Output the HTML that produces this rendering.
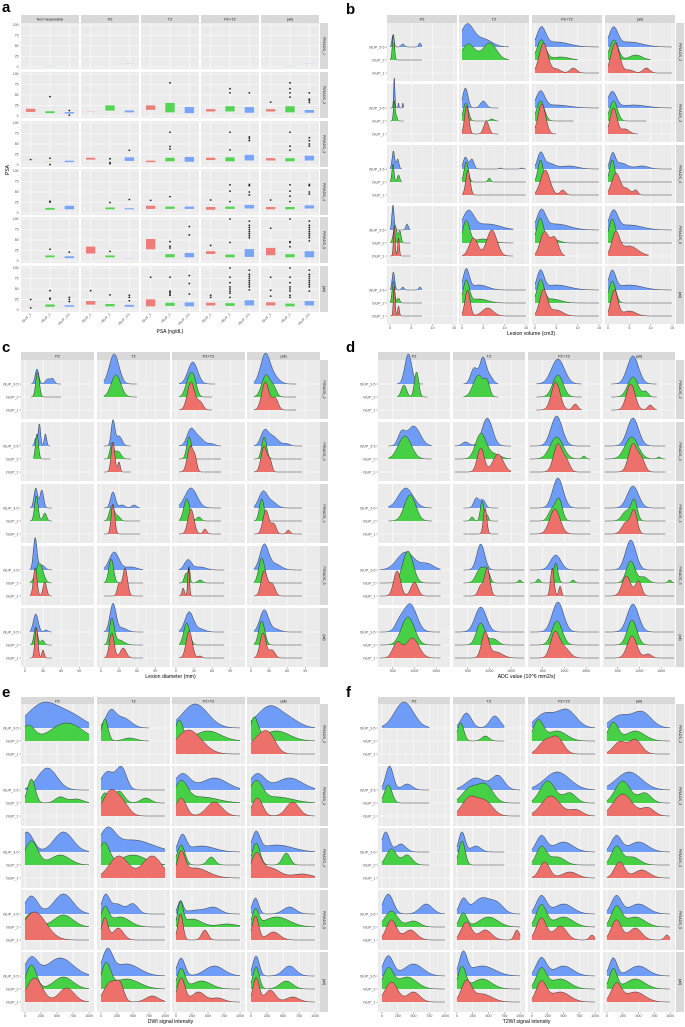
<!DOCTYPE html>
<html><head><meta charset="utf-8"><style>
html,body{margin:0;padding:0;background:#fff}
svg{display:block;font-family:"Liberation Sans",sans-serif}
</style></head><body>
<svg id="fig" width="685" height="1027" viewBox="0 0 685 1027" xmlns="http://www.w3.org/2000/svg"></svg>
<script>
// ---------------- data ----------------
const colNamesA = ["Not measurable","PZ","TZ","PZ+TZ","(all)"];
const colNamesR = ["PZ","TZ","PZ+TZ","(all)"];
const rowNamesA = ["PIRADS_1","PIRADS_2","PIRADS_3","PIRADS_4","PIRADS_5","(all)"];
const rowNamesR = ["PIRADS_2","PIRADS_3","PIRADS_4","PIRADS_5","(all)"];
const groupNames = ["ISUP_1","ISUP_2","ISUP_3-5"];
const psaTicks = [0,25,50,75,100];
const psaBoxes = [
 [[null,[1,2,[]],null],[null,null,[8,9,[]]],[null,null,null],[null,null,null],[null,[1,2,[]],[8,9,[]]]],
 [[[9,18,[]],[6,12,[46]],[5,10,[13,2]]],[[10,12,[]],[12,26,[]],[8,14,[]]],[[14,26,[]],[8,32,[79]],[6,22,[]]],[[10,17,[]],[10,24,[55,65]],[7,22,[55]]],[[10,17,[33]],[8,24,[45,55,65,79]],[7,15,[32,37,40,55]]]],
 [[[12,13,[13]],[7,9,[1,16]],[6,11,[]]],[[12,18,[]],[12,13,[3,6,15]],[9,19,[35]]],[[6,11,[]],[8,18,[38,44,78]],[7,20,[]]],[[11,18,[]],[8,19,[36,78]],[10,25,[58,63,67]]],[[10,17,[]],[8,17,[35,45,78]],[10,23,[45,50,58,65]]]],
 [[null,[7,13,[26,28]],[8,18,[]]],[null,[8,14,[25]],[8,12,[32]]],[[9,18,[30]],[9,16,[39]],[9,16,[]]],[[7,15,[31]],[9,16,[27,52,67]],[10,20,[43,50,65,68]]],[[8,15,[31]],[8,15,[27,40,52,67]],[10,19,[45,50,65,68]]]],
 [[null,[8,14,[28]],[6,12,[21]]],[[17,35,[]],[8,14,[23]],[5,7,[]]],[[27,53,[]],[8,17,[31,35,46]],[8,20,[62,82]]],[[16,24,[37]],[8,16,[44,100]],[9,29,[55,60,65,70,75,80,85,95]]],[[13,32,[78]],[8,17,[34,44,46,100]],[8,24,[48,55,60,65,70,75,80,85,95]]]],
 [[[11,12,[5,25]],[7,14,[26,28,46]],[7,12,[20,25,30]]],[[12,22,[46]],[8,15,[36]],[7,13,[22,30,35]]],[[8,26,[78]],[9,18,[35,38,42,45,78]],[8,19,[38,63,82]]],[[10,18,[30,35]],[9,17,[30,40,45,50,55,65,78,100]],[10,24,[48,55,60,65,70,75,80,85,95]]],[[10,19,[33,47,78]],[8,16,[30,35,45,50,55,65,78,100]],[10,22,[45,55,60,65,70,75,80,85,95]]]]
];
const volData = [
 [[[0,7.5,[0.7,.25,12],[3,.4,3],[7,.3,4]],[0,7.5,[0.8,.25,26]],null],[[0,11,[1.2,1.5,22],[5,2,8]],[0,11,[1.5,1.5,16],[6.5,1.6,17]],null],[[0,15,[1.5,1,18],[5,3,5]],[0,10,[1.5,1,20],[6,2,3]],[0,15,[2,1,30],[5,1,4],[9,.8,5]]],[[0,15,[1.3,1,18],[5,3,5]],[0,10,[1.4,1,20],[6.5,1.5,5]],[0,15,[1.7,1,30],[5,1,3],[9,.8,5]]]],
 [[[0,3.2,[1,.15,30],[2,.1,5],[3,.1,5]],[0,3.2,[1,.2,20],[1.5,.2,5]],null],[[0,8.5,[0.8,.6,20],[5,.7,7]],[0,8.5,[0.9,.6,18],[7,.5,2]],[0,8.5,[1.1,.5,28],[5.7,.6,13]]],[[0,15,[1.3,1,16],[5,3,3]],[0,9,[1.3,.9,20]],[0,5,[1.6,.9,30]]],[[0,15,[1,1,16],[6,3,3]],[0,9,[1.3,.9,20]],[0,7,[1.3,.8,26],[4,1,5]]]],
 [[[0,2.8,[0.8,.3,18],[1.8,.3,10]],[0,2.8,[0.7,.25,18],[2,.3,7]],null],[[0,15,[0.8,.5,12],[2.3,.5,10],[9,.3,1],[14,.3,1]],[0,15,[1,.5,20],[6.4,.3,4]],[0,15,[1.4,.5,25]]],[[0,15,[1.3,.7,14],[3,1.5,6],[8,2,3]],[0,15,[1.3,.6,22]],[0,15,[2.4,1.1,25],[6.5,.6,5]]],[[0,15,[1.1,.6,14],[3,1.5,6],[8,1.5,3]],[0,15,[1,.6,22]],[0,15,[1.9,1,22],[4.5,.8,6],[6.5,.5,5]]]],
 [[[0,4.8,[0.7,.25,25],[4,.3,6]],[0,4.8,[1.2,.4,18],[2.3,.3,12]],[0,4.8,[1,.2,30],[2,.2,18]]],[[0,12,[1.5,1.3,18],[6,3,6]],[0,12,[1,.8,22],[5,2,4]],[0,12,[2.7,1,18],[7,1.2,26]]],[[0,15,[1.5,1,18],[5,3,6]],[0,15,[1.2,.8,24],[4,1.5,4]],[0,7,[2.2,1,24],[4.6,.9,18]]],[[0,15,[1.3,1,18],[5,3,5]],[0,15,[1,.8,24]],[0,9.5,[1.8,.9,22],[5,2,10]]]],
 [[[0,7.5,[0.8,.3,18],[3,.3,3],[7,.3,3]],[0,7.5,[0.8,.3,22],[2,.3,5]],[0,7.5,[1,.2,30],[2,.2,10]]],[[0,15,[1,.7,20],[4,2,5]],[0,15,[1,.7,22],[4,2,4]],[0,15,[1.3,.6,26],[6,1.3,8]]],[[0,15,[1.3,.8,18],[5,3,5]],[0,15,[1.3,.8,22],[4,2,4]],[0,15,[2,.9,26],[5,1.5,6]]],[[0,15,[1,.8,18],[5,3,5]],[0,15,[1,.8,22]],[0,15,[1.5,.8,26],[5,1.5,5]]]]
];
const diamData = [
 [[[10,60,[20,3,15],[38,4,5],[46,3,5]],[10,60,[21,3,25]],null],[[5,60,[22,8,30]],[5,60,[25,8,22]],null],[[5,65,[28,8,22]],[5,60,[22,6,18],[30,5,14]],[5,60,[25,6,28],[40,5,8]]],[[5,75,[24,8,30],[40,8,6]],[5,75,[25,7,22],[38,5,8]],[5,75,[24,6,28],[40,5,12]]]],
 [[[12,42,[18,2,8],[24,2,22],[34,2,12]],[14,42,[20,2.5,25]],null],[[5,50,[20,3,25],[30,5,10]],[5,50,[18,3,15],[28,5,8]],[5,50,[20,3,30],[30,2,10]]],[[5,75,[24,6,12],[35,10,10],[60,5,2]],[5,75,[22,4,22]],[5,75,[24,5,26],[32,3,10]]],[[5,85,[22,6,12],[35,10,10],[60,5,2]],[5,85,[22,4,22]],[5,85,[22,5,26],[32,3,10]]]],
 [[[8,45,[18,3,20],[28,3,18]],[8,45,[19,3,25],[33,3,8]],null],[[5,65,[20,4,16],[35,5,3],[55,4,3]],[5,65,[18,4,15],[28,4,5]],[5,65,[20,3,30]]],[[5,75,[25,10,20]],[5,75,[18,5,22],[38,4,4]],[5,75,[25,5,25],[48,3,5]]],[[5,85,[20,7,16],[35,8,6]],[5,85,[18,4,22]],[5,85,[25,5,24],[38,4,10],[62,3,4]]]],
 [[[8,45,[17,3,32],[28,5,5]],[8,45,[24,6,20]],[8,45,[17,3,28],[33,3,14]]],[[5,70,[22,8,18],[50,10,3]],[5,70,[17,4,24]],[5,70,[30,3,12],[40,4,28]]],[[5,80,[20,6,10],[40,10,3]],[5,80,[17,3,10],[22,1.5,14],[40,4,3]],[5,80,[12,2,8],[21,1.5,28]]],[[5,85,[22,7,25],[40,10,6]],[5,85,[18,5,25]],[5,85,[22,5,25],[35,5,12]]]],
 [[[8,45,[18,4,18],[35,3,2]],[8,45,[18,3,18],[29,3,5]],[8,45,[19,2.5,30],[30,2,8]]],[[5,70,[20,5,28],[35,8,4]],[5,70,[18,4,25],[30,8,5]],[5,70,[18,4,25],[37,5,10]]],[[5,80,[22,7,20],[40,8,3]],[5,80,[18,5,22]],[5,80,[22,5,27],[40,3,2]]],[[5,85,[22,7,22],[40,8,3]],[5,85,[18,5,24]],[5,85,[20,5,25],[35,5,8]]]]
];
const adcData = [
 [[[600,1200,[860,80,30]],[600,1300,[760,60,12],[1050,50,25]],null],[[400,1200,[650,80,16],[850,70,25],[1000,80,8]],[400,1200,[750,120,22],[950,60,12]],null],[[350,1400,[850,150,25]],[350,1400,[850,120,22]],[350,1400,[800,100,28],[1250,60,6]]],[[350,1400,[850,130,28]],[350,1400,[850,120,20],[1150,60,5]],[350,1400,[800,100,26],[1250,60,5]]]],
 [[[400,1400,[700,80,12],[980,150,20]],[400,1400,[780,150,23]],null],[[200,1500,[450,80,4],[950,120,28]],[200,1500,[800,120,25],[1100,150,5]],[200,1500,[800,80,24],[1200,120,18]]],[[200,1600,[820,130,30]],[200,1600,[820,150,22],[1450,40,3]],[200,1600,[850,100,28],[1050,80,10]]],[[200,1600,[850,130,28]],[200,1600,[820,150,22],[1450,40,2]],[200,1600,[850,100,28],[1050,80,12]]]],
 [[[400,1400,[800,170,20]],[400,1400,[900,130,26]],null],[[400,1200,[700,60,10],[850,60,8]],[400,1200,[600,40,4],[830,40,20],[950,30,6]],[400,1200,[900,40,26]]],[[200,1600,[850,120,30]],[200,1600,[700,80,10],[870,80,22]],[200,1600,[780,120,25]]],[[200,1600,[850,130,22]],[200,1600,[700,100,10],[880,70,20]],[200,1600,[700,100,12],[880,70,22]]]],
 [[[200,1600,[800,200,18],[1300,150,6]],[200,1600,[850,120,32]],[200,1600,[600,80,25],[1000,80,14]]],[[400,1800,[800,90,26]],[400,1800,[800,100,15],[950,60,10],[1700,40,3]],[400,1800,[800,60,10],[950,60,28]]],[[200,1800,[800,120,15]],[200,1800,[400,40,4],[800,50,20],[1200,40,3]],[200,1800,[720,40,28],[900,30,10]]],[[200,1800,[800,120,30]],[200,1800,[800,100,22],[1100,100,6],[1700,40,3]],[200,1800,[700,100,20],[980,70,15]]]],
 [[[200,1600,[900,150,28],[650,100,8]],[200,1600,[850,150,28]],[200,1600,[600,100,15],[950,150,20]]],[[200,1800,[800,130,25]],[200,1800,[800,100,22],[1100,100,6]],[200,1800,[900,80,25],[1150,150,6]]],[[200,1800,[850,130,30]],[200,1800,[830,120,24]],[200,1800,[780,100,25],[1000,120,10]]],[[200,1800,[850,130,28]],[200,1800,[830,110,25]],[200,1800,[830,110,22],[1200,80,4]]]]
];
const dwiData = [
 [[[0,1000,[300,250,25],[750,200,10]],[0,1000,[50,100,15],[650,250,18]],null],[[0,750,[150,80,16],[350,120,10]],[0,750,[60,50,22],[450,100,3]],null],[[0,1000,[300,200,24]],[0,1000,[50,60,20],[500,200,10]],[0,1000,[200,200,24]]],[[0,1000,[300,200,22],[650,150,5]],[0,1000,[50,60,22],[400,200,10]],[0,1000,[150,150,18],[300,100,10]]]],
 [[[0,1000,[350,150,22]],[0,1000,[100,60,24],[550,80,6],[800,100,4]],null],[[0,1000,[100,100,18],[320,80,22]],[0,1000,[60,50,10],[280,80,12],[700,80,5]],[0,1000,[150,120,25],[350,100,10]]],[[0,1000,[100,120,16],[600,200,12]],[0,1000,[80,100,20],[400,250,6]],[0,1000,[80,80,18],[600,120,14]]],[[0,1000,[100,120,16],[600,200,12]],[0,1000,[80,100,20],[400,250,6]],[0,1000,[100,80,18],[650,100,14]]]],
 [[[0,1000,[30,100,20],[600,150,20]],[0,1000,[100,100,24],[550,150,10]],null],[[0,1000,[100,120,20],[500,300,12]],[0,1000,[50,80,22],[500,200,10]],[0,1000,[280,150,22],[800,150,22]]],[[0,1000,[100,60,16],[400,200,6]],[0,1000,[80,60,20],[550,60,8]],[0,1000,[80,60,22],[300,200,10]]],[[0,1000,[80,60,18],[400,250,7]],[0,1000,[80,60,22],[550,60,12]],[0,1000,[80,80,22],[300,150,10],[800,150,4]]]],
 [[[0,1000,[100,100,18],[600,150,20]],[0,1000,[100,100,14],[600,150,12]],[0,1000,[150,180,28]]],[[0,1000,[70,60,18],[250,100,10],[500,80,10]],[0,1000,[60,60,18],[300,150,10]],[0,1000,[60,50,22],[270,80,12]]],[[0,1000,[70,40,12],[350,200,4],[600,100,5]],[0,1000,[70,40,22],[250,150,8],[800,150,3]],[0,1000,[70,40,26],[450,50,10]]],[[0,1000,[70,50,16],[600,100,7]],[0,1000,[70,50,16],[400,200,10]],[0,1000,[70,50,24],[350,100,8]]]],
 [[[0,1000,[100,100,18],[550,200,18]],[0,1000,[100,80,24],[600,150,12]],[0,1000,[150,120,24],[650,120,14]]],[[0,1000,[100,80,24],[400,200,12]],[0,1000,[80,70,24],[400,200,10]],[0,1000,[150,100,20],[300,60,14],[800,100,6]]],[[0,1000,[80,60,18],[600,150,10]],[0,1000,[80,60,20],[400,150,8]],[0,1000,[80,60,24],[350,100,10],[650,100,4]]],[[0,1000,[80,50,20],[600,100,10]],[0,1000,[80,50,22],[550,100,8]],[0,1000,[80,50,24],[300,80,12],[650,100,5]]]]
];
const t2Data = [
 [[[0,750,[350,150,26]],null,null],[[0,750,[150,80,15],[600,80,12]],[0,750,[60,50,18],[450,60,5]],null],[[0,1000,[200,150,14],[550,150,18]],[0,1000,[100,80,20],[400,150,10]],[0,1000,[200,100,12],[400,100,16]]],[[0,1000,[200,150,12],[550,150,16]],[0,1000,[100,80,18],[450,150,10]],[0,1000,[200,100,12],[450,100,14]]]],
 [[[0,750,[120,60,24],[400,80,6]],[0,750,[100,60,18]],null],[[0,1000,[300,150,12],[650,100,14]],[0,1000,[200,120,14],[450,120,18]],[0,1000,[200,120,18],[450,120,14]]],[[0,1000,[400,200,18]],[0,1000,[250,120,22],[600,100,10]],[0,1000,[300,150,20],[700,100,6]]],[[0,1000,[350,200,18]],[0,1000,[250,120,22],[600,100,10]],[0,1000,[250,150,22],[650,100,8]]]],
 [[[0,750,[60,60,20],[300,80,8]],[0,750,[150,80,16],[400,80,10]],null],[[0,750,[80,50,20],[300,80,6]],[0,750,[80,50,24]],null],[[0,1000,[150,80,16],[500,150,10]],[0,1000,[150,80,18],[400,120,8]],[0,1000,[200,80,16],[600,120,6]]],[[0,1000,[150,80,16],[500,150,10]],[0,1000,[150,80,18],[400,120,8]],[0,1000,[200,80,16],[550,120,8]]]],
 [[[0,1000,[100,80,20],[700,100,10]],[0,1000,[150,100,16],[500,100,6]],[0,1000,[150,80,20],[450,100,10]]],[[0,1000,[100,60,14],[400,150,16],[650,100,8]],[0,1000,[100,60,14],[500,150,10]],[0,1000,[150,80,18],[450,100,10],[950,40,10]]],[[0,1000,[150,80,18],[500,150,10]],[0,1000,[150,80,22],[500,150,10]],[0,1000,[150,80,22],[450,100,14],[950,40,5]]],[[0,1000,[150,80,18],[500,150,10]],[0,1000,[150,80,20],[450,150,10]],[0,1000,[150,80,20],[450,100,12],[950,40,5]]]],
 [[[0,1000,[100,80,20],[500,150,12]],[0,1000,[100,80,20],[400,150,12]],[0,1000,[150,100,20],[500,100,10]]],[[0,1000,[100,60,22],[400,200,10]],[0,1000,[80,60,22],[400,150,10]],[0,1000,[150,80,20],[400,150,8]]],[[0,1000,[150,80,18],[500,150,10]],[0,1000,[150,80,20],[450,150,10]],[0,1000,[150,80,20],[450,150,10]]],[[0,1000,[100,60,18],[500,150,10]],[0,1000,[100,60,20],[450,150,10]],[0,1000,[150,80,18],[450,150,10]]]]
];
const volTicks=[0,5,10,15], diamTicks=[0,30,60,90], adcTicks=[500,1000,1500], dwiTicks=[0,250,500,750,1000];

// ---------------- rendering ----------------
const NS="http://www.w3.org/2000/svg";
const svg=document.getElementById('fig');
const FILL=['#6E9CF7','#45D045','#EE706B'];
function el(tag,attrs,parent,txt){const e=document.createElementNS(NS,tag);for(const k in attrs)e.setAttribute(k,attrs[k]);if(txt!==undefined)e.textContent=txt;(parent||svg).appendChild(e);return e;}
function label(x,y,t){const e=el('text',{x:x,y:y,'font-size':15,'font-weight':'bold'},svg,t);

}
function strips(g,colX,colW,colNames,stripTop,rowTops,rowH,rightX,rowNames){
 colNames.forEach((n,i)=>{const r=el('rect',{x:colX[i],y:stripTop,width:colW,height:8,fill:'#d9d9d9'},g);
 
 
 el('text',{x:colX[i]+colW/2,y:stripTop+5.6,'font-size':3.8,fill:'#1a1a1a','text-anchor':'middle'},g,n);});
 rowNames.forEach((n,i)=>{const r=el('rect',{x:rightX,y:rowTops[i],width:8,height:rowH,fill:'#d9d9d9'},g);
 
 
 const cx=rightX+4,cy=rowTops[i]+rowH/2;
 el('text',{x:cx,y:cy,'font-size':3.8,fill:'#1a1a1a','text-anchor':'middle','dominant-baseline':'central',transform:`rotate(90 ${cx} ${cy})`},g,n);});
}
function ridgePanel(name,data,o){
 const g=el('g',{});
 
 
 strips(g,o.colX,o.colW,colNamesR,o.stripTop,o.rowTops,o.rowH,o.rightX,rowNamesR);
 const sx=(c,v)=>o.colX[c]+(v-o.dom[0])/(o.dom[1]-o.dom[0])*o.colW;
 const baseOff=[24,37,50];
 o.rowTops.forEach((rt,r)=>{
  o.colX.forEach((cx,c)=>{
   const p=el('g',{},g);
   
   
   el('rect',{x:cx,y:rt,width:o.colW,height:o.rowH,fill:'#ebebeb'},p);
   for(let k=0;k<o.ticks.length;k++){
    const xv=sx(c,o.ticks[k]);
    el('line',{x1:xv,x2:xv,y1:rt,y2:rt+o.rowH,stroke:'#fff','stroke-width':0.6},p);
    if(k<o.ticks.length-1){const m=sx(c,(o.ticks[k]+o.ticks[k+1])/2);el('line',{x1:m,x2:m,y1:rt,y2:rt+o.rowH,stroke:'#f5f5f5','stroke-width':0.3},p);}
   }
   baseOff.forEach(b=>el('line',{x1:cx,x2:cx+o.colW,y1:rt+b,y2:rt+b,stroke:'#fff','stroke-width':0.6},p));
   for(let gi=0;gi<3;gi++){
    const d=data[r][c][gi]; if(!d)continue;
    const base=rt+baseOff[gi];
    const x0=d[0],x1=d[1],pk=d.slice(2);
    let pts=[];
    for(let s=0;s<=80;s++){const v=x0+(x1-x0)*s/80;let h=0;pk.forEach(q=>{h+=q[2]*Math.exp(-0.5*((v-q[0])/q[1])**2);});pts.push([sx(c,v),base-h]);}
    const line=pts.map((q,i)=>(i?'L':'M')+q[0].toFixed(2)+' '+q[1].toFixed(2)).join(' ');
    const area=el('path',{d:line+` L${pts[80][0].toFixed(2)} ${base} L${pts[0][0].toFixed(2)} ${base} Z`,fill:FILL[gi]},p);
    
    
    el('path',{d:line,fill:'none',stroke:'#222','stroke-width':0.45},p);
   }
  });
  ['ISUP_3-5','ISUP_2','ISUP_1'].forEach((n,i)=>{
   el('text',{x:o.colX[0]-2.5,y:rt+baseOff[i]+1.3,'font-size':3.6,fill:'#4d4d4d','text-anchor':'end'},g,n);
   el('line',{x1:o.colX[0]-1.5,x2:o.colX[0],y1:rt+baseOff[i],y2:rt+baseOff[i],stroke:'#333','stroke-width':0.4},g);
  });
 });
 const by=o.rowTops[o.rowTops.length-1]+o.rowH;
 o.colX.forEach((cx,c)=>o.ticks.forEach(t=>{const xv=sx(c,t);
  el('line',{x1:xv,x2:xv,y1:by,y2:by+1.5,stroke:'#333','stroke-width':0.4},g);
  el('text',{x:xv,y:by+5,'font-size':3.6,fill:'#4d4d4d','text-anchor':'middle'},g,String(t));}));
 const tt=el('text',{x:(o.colX[0]+o.colX[3]+o.colW)/2,y:by+11,'font-size':5.2,fill:'#000','text-anchor':'middle'},g,o.title);
 
 
}

(function(){
 const g=el('g',{});
 
 
 const colX=[21,81,141,201,261],colW=58,rowTops=[23,72,121,169,217,266],rowH=46;
 strips(g,colX,colW,colNamesA,15,rowTops,rowH,320,rowNamesA);
 const sy=(r,v)=>rowTops[r]+rowH-2-(v/100)*(rowH-4);
 const gx=(c,i)=>colX[c]+colW*(i*2+1)/6;
 rowTops.forEach((rt,r)=>{
  colX.forEach((cx,c)=>{
   const p=el('g',{},g);
   
   
   el('rect',{x:cx,y:rt,width:colW,height:rowH,fill:'#ebebeb'},p);
   psaTicks.forEach(t=>el('line',{x1:cx,x2:cx+colW,y1:sy(r,t),y2:sy(r,t),stroke:'#fff','stroke-width':0.6},p));
   for(let i=0;i<3;i++)el('line',{x1:gx(c,i),x2:gx(c,i),y1:rt,y2:rt+rowH,stroke:'#fff','stroke-width':0.6},p);
   for(let i=0;i<3;i++){
    const b=psaBoxes[r][c][i]; if(!b)continue;
    const x=gx(c,i);
    const bx=el('rect',{x:x-5,y:sy(r,b[1]),width:10,height:Math.max(0.8,sy(r,b[0])-sy(r,b[1])),fill:FILL[2-i],'fill-opacity':0.9,stroke:'#f0f0f0','stroke-width':0.6},p);
    
    
    b[2].forEach(v=>el('circle',{cx:x,cy:sy(r,v),r:0.9,fill:'#222'},p));
   }
  });
  psaTicks.forEach(t=>el('text',{x:colX[0]-2.5,y:sy(r,t)+1.2,'font-size':3.4,fill:'#4d4d4d','text-anchor':'end'},g,String(t)));
 });
 colX.forEach((cx,c)=>{for(let i=0;i<3;i++){const x=gx(c,i),y=314;
  el('text',{x:x,y:y+1,'font-size':3.4,fill:'#4d4d4d','text-anchor':'end',transform:`rotate(-45 ${x} ${y})`},g,groupNames[i]);}});
 el('text',{x:170,y:333,'font-size':5,'text-anchor':'middle'},g,'PSA (ng/dL)');
 el('text',{x:9,y:170,'font-size':5,'text-anchor':'middle',transform:'rotate(-90 9 170)'},g,'PSA');
})();

label(2,12,'a');label(346,14,'b');label(2,352,'c');label(346,352,'d');label(2,697,'e');label(346,697,'f');
ridgePanel('volume-ridge-panel',volData,{colX:[387,459,532,605],colW:70,stripTop:15,rowTops:[23,84,145,206,266],rowH:58,rightX:676,dom:[-0.7,15.7],ticks:volTicks,title:'Lesion volume (cm3)'});
ridgePanel('diameter-ridge-panel',diamData,{colX:[21,97,172,247],colW:73,stripTop:352,rowTops:[360,422,484,546,608],rowH:59,rightX:320,dom:[-6.5,114.5],ticks:diamTicks,title:'Lesion diameter (mm)'});
ridgePanel('adc-ridge-panel',adcData,{colX:[378,453,528,603],colW:72,stripTop:352,rowTops:[360,422,484,546,608],rowH:59,rightX:676,dom:[160,1820],ticks:adcTicks,title:'ADC value (10^6 mm2/s)'});
ridgePanel('dwi-ridge-panel',dwiData,{colX:[21,97,172,247],colW:73,stripTop:697,rowTops:[704,766,828,890,952],rowH:60,rightX:320,dom:[-62,1077],ticks:dwiTicks,title:'DWI signal intensity'});
ridgePanel('t2wi-ridge-panel',t2Data,{colX:[378,453,528,603],colW:72,stripTop:697,rowTops:[704,766,828,890,952],rowH:60,rightX:676,dom:[-62,1077],ticks:dwiTicks,title:'T2WI signal intensity'});
</script>
</body></html>
